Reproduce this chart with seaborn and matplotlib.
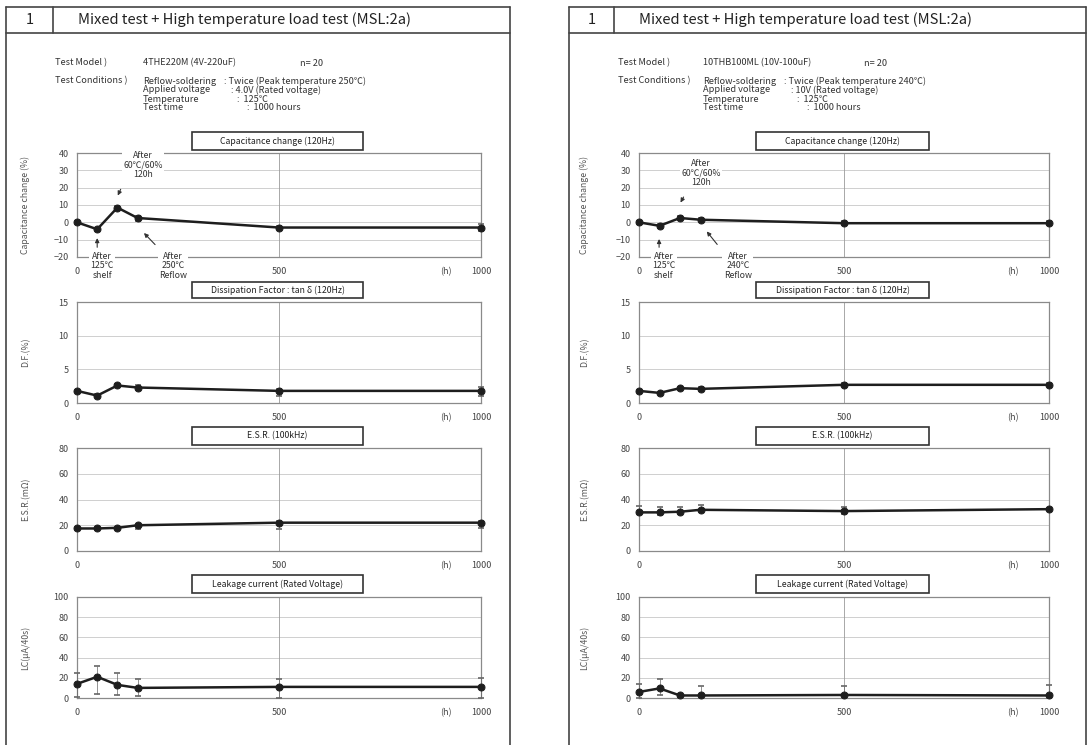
import matplotlib
matplotlib.use("Agg")
import matplotlib.pyplot as plt
import matplotlib.patches as mpatches
from matplotlib.lines import Line2D
import seaborn as sns

# ---------------- data ----------------
hours = [0, 50, 100, 150, 500, 1000]

model_L = "4THE220M (4V-220uF)"
reflow_L = "Twice (Peak temperature 250℃)"
volt_L = "4.0V (Rated voltage)"
cap_mean_L = [0, -4, 8.5, 2.5, -3, -3]
cap_min_L = [-1, -5, 7.5, 0.5, -4, -5]
cap_max_L = [1, -3, 9.5, 3.5, -2, -1]
df_mean_L = [1.8, 1.1, 2.6, 2.3, 1.8, 1.8]
df_min_L = [1.6, 0.9, 2.4, 2.0, 1.1, 1.1]
df_max_L = [2.0, 1.3, 2.8, 2.6, 2.1, 2.4]
esr_mean_L = [17.5, 17.5, 18, 20, 22, 22]
esr_min_L = [16.5, 16.5, 17, 17, 17, 18]
esr_max_L = [18.5, 18.5, 19, 21, 23, 23]
lc_mean_L = [14, 21, 13, 10, 11, 11]
lc_min_L = [1, 4, 3, 2, 0, 0]
lc_max_L = [25, 32, 25, 19, 19, 20]

model_R = "10THB100ML (10V-100uF)"
reflow_R = "Twice (Peak temperature 240℃)"
volt_R = "10V (Rated voltage)"
cap_mean_R = [0, -2, 2.5, 1.5, -0.5, -0.5]
cap_min_R = [-1, -3, 1.5, 0.5, -1.5, -1.5]
cap_max_R = [1, -1, 3.5, 2.5, 0.5, 0.5]
df_mean_R = [1.8, 1.5, 2.2, 2.1, 2.7, 2.7]
df_min_R = [1.6, 1.3, 2.0, 1.8, 2.5, 2.5]
df_max_R = [2.0, 1.7, 2.4, 2.4, 2.9, 2.9]
esr_mean_R = [30, 30, 30.5, 32, 31, 32.5]
esr_min_R = [29, 28, 29, 30, 29, 31.5]
esr_max_R = [35, 34, 34, 36, 34, 33.5]
lc_mean_R = [6, 9.5, 2.5, 2.5, 3, 2.5]
lc_min_R = [0, 3, 1, 1, 1, 0]
lc_max_R = [14, 19, 4, 12, 12, 13]

panel_titles = ["Capacitance change (120Hz)", "Dissipation Factor : tan δ (120Hz)",
                "E.S.R. (100kHz)", "Leakage current (Rated Voltage)"]
panel_ylabels = ["Capacitance change (%)", "D.F.(%)", "E.S.R.(mΩ)", "LC(μA/40s)"]
panel_yticks = [[-20, -10, 0, 10, 20, 30, 40], [0, 5, 10, 15],
                [0, 20, 40, 60, 80], [0, 20, 40, 60, 80, 100]]
xtick_vals = [0, 500, 1000]
xtick_labels = ["0", "500", "1000"]
unit_label = "(h)"
heading = "Mixed test + High temperature load test (MSL:2a)"
cond_keys = ["Reflow-soldering", "Applied voltage", "Temperature", "Test time"]

# ---------------- style ----------------
sns.set_style("white")
plt.rcParams["font.family"] = ["Noto Sans CJK JP", "DejaVu Sans"]
TXT = "#333333"

W, H = 1092, 745
fig = plt.figure(figsize=(W / 100, H / 100), dpi=100)
fig.patch.set_facecolor("white")


def fx(x):
    return x / W


def fy(y):
    return 1 - y / H


def rect_px(l, t, r, b):
    return [l / W, 1 - b / H, (r - l) / W, (b - t) / H]


def fline(x0, y0, x1, y1, lw=1.2, color="#444444"):
    fig.add_artist(Line2D([fx(x0), fx(x1)], [fy(y0), fy(y1)], transform=fig.transFigure,
                          color=color, lw=lw))


def fbox(l, t, r, b, lw=1.2, color="#333333"):
    fig.add_artist(mpatches.Rectangle((fx(l), fy(b)), fx(r) - fx(l), fy(t) - fy(b),
                                      transform=fig.transFigure, fill=True, facecolor="white",
                                      edgecolor=color, lw=lw, zorder=5))


pages = [
    dict(l=6, r=510, num_r=53, ax_l=77, ax_r=481, box=(192, 363), ylab_x=30,
         txt1=55, txt2=143, ntxt=300, model=model_L, reflow=reflow_L, volt=volt_L,
         data=[(cap_mean_L, cap_min_L, cap_max_L), (df_mean_L, df_min_L, df_max_L),
               (esr_mean_L, esr_min_L, esr_max_L), (lc_mean_L, lc_min_L, lc_max_L)],
         reflow_temp="250℃",
         ann=dict(shelf=(62, -25, 50, -16, 50, -7.5),
                  hum=(163, 33, 111, 20.5, 98, 14),
                  ref=(238, -25, 198, -14, 161, -5))),
    dict(l=569, r=1086, num_r=614, ax_l=639, ax_r=1049, box=(756, 929), ylab_x=589,
         txt1=618, txt2=703, ntxt=864, model=model_R, reflow=reflow_R, volt=volt_R,
         data=[(cap_mean_R, cap_min_R, cap_max_R), (df_mean_R, df_min_R, df_max_R),
               (esr_mean_R, esr_min_R, esr_max_R), (lc_mean_R, lc_min_R, lc_max_R)],
         reflow_temp="240℃",
         ann=dict(shelf=(61, -25, 49, -16, 49, -8),
                  hum=(151, 28.5, 112, 16, 98, 10),
                  ref=(241, -25, 195, -14, 161, -4))),
]

panel_rows = [(153, 257), (302, 403), (448, 551), (597, 698)]
box_rows = [(132, 150), (282, 298), (427, 445), (575, 593)]
val_offsets = [81, 88, 94, 104]

for pg in pages:
    # page border and header
    fline(pg["l"], 7, pg["r"], 7)
    fline(pg["l"], 7, pg["l"], 745)
    fline(pg["r"], 7, pg["r"], 745)
    fline(pg["l"], 33, pg["r"], 33)
    fline(pg["num_r"], 7, pg["num_r"], 33)
    fig.text(fx((pg["l"] + pg["num_r"]) / 2), fy(20), "1", ha="center", va="center",
             fontsize=10.5, color="#222222")
    fig.text(fx(pg["num_r"] + 25), fy(20), heading, ha="left", va="center",
             fontsize=10.6, color="#222222")
    # test info
    fs = 6.6
    fig.text(fx(pg["txt1"]), fy(63), "Test Model )", fontsize=fs, color=TXT, va="center")
    fig.text(fx(pg["txt2"]), fy(63), pg["model"], fontsize=fs, color=TXT, va="center")
    fig.text(fx(pg["ntxt"]), fy(63), "n= 20", fontsize=fs, color=TXT, va="center")
    fig.text(fx(pg["txt1"]), fy(81), "Test Conditions )", fontsize=fs, color=TXT, va="center")
    vals = [": " + pg["reflow"], ": " + pg["volt"], ":  125℃", ":  1000 hours"]
    for i, (k, v) in enumerate(zip(cond_keys, vals)):
        yy = fy(81 + 9 * i)
        fig.text(fx(pg["txt2"]), yy, k, fontsize=fs, color=TXT, va="center")
        fig.text(fx(pg["txt2"] + val_offsets[i]), yy, v, fontsize=fs, color=TXT, va="center")

    for pi, ((top, bot), (bt, bb)) in enumerate(zip(panel_rows, box_rows)):
        ax = fig.add_axes(rect_px(pg["ax_l"], top, pg["ax_r"], bot))
        mean, lo, hi = pg["data"][pi]
        yt = panel_yticks[pi]
        ax.set_xlim(0, 1000)
        ax.set_ylim(yt[0], yt[-1])
        ax.set_yticks(yt)
        ax.set_xticks(xtick_vals + [913])
        ax.set_xticklabels(xtick_labels + [unit_label])
        ax.tick_params(axis="both", length=0, labelsize=6.5, colors="#444444", pad=7)
        ax.tick_params(axis="y", pad=6)
        for t in yt[1:-1]:
            ax.axhline(t, color="#cfcfcf", lw=0.7, zorder=0)
        ax.axvline(500, color="#9a9a9a", lw=0.6, zorder=0)
        for s in ax.spines.values():
            s.set_color("#8a8a8a")
            s.set_linewidth(0.9)
        yerr = [[m - a for m, a in zip(mean, lo)], [b - m for m, b in zip(mean, hi)]]
        ax.errorbar(hours, mean, yerr=yerr, fmt="none", ecolor="#666666", elinewidth=0.5,
                    capsize=2.5, capthick=1.2, zorder=3, clip_on=False)
        sns.lineplot(x=hours, y=mean, ax=ax, color="#1e1e1e", linewidth=1.8, marker="o",
                     markersize=5, markeredgecolor="#1e1e1e", zorder=4, clip_on=False)
        ax.set_ylabel(panel_ylabels[pi], fontsize=6.3, color="#555555")
        ax.yaxis.set_label_coords((pg["ylab_x"] - pg["ax_l"]) / (pg["ax_r"] - pg["ax_l"]), 0.5)
        ax.set_xlabel("")
        # title box
        fbox(pg["box"][0], bt, pg["box"][1], bb)
        fig.text(fx((pg["box"][0] + pg["box"][1]) / 2), fy((bt + bb) / 2), panel_titles[pi],
                 ha="center", va="center", fontsize=6.3, color="#222222", zorder=6)
        if pi == 0:
            a = pg["ann"]
            bb_kw = dict(boxstyle="square,pad=0.15", fc="white", ec="none")
            arrow = dict(arrowstyle="-|>", color="#333333", lw=0.8, mutation_scale=6)
            for key, txt in [("shelf", "After\n125℃\nshelf"),
                             ("hum", "After\n60℃/60%\n120h"),
                             ("ref", "After\n" + pg["reflow_temp"] + "\nReflow")]:
                tx, ty, ax0, ay0, ax1, ay1 = a[key]
                ax.text(tx, ty, txt, ha="center", va="center", fontsize=6.3, color="#333333",
                        linespacing=1.05, bbox=bb_kw, zorder=5, clip_on=False)
                ax.annotate("", xy=(ax1, ay1), xytext=(ax0, ay0), arrowprops=arrow,
                            annotation_clip=False, zorder=5)

fig.savefig("out.png", dpi=100, facecolor="white")
